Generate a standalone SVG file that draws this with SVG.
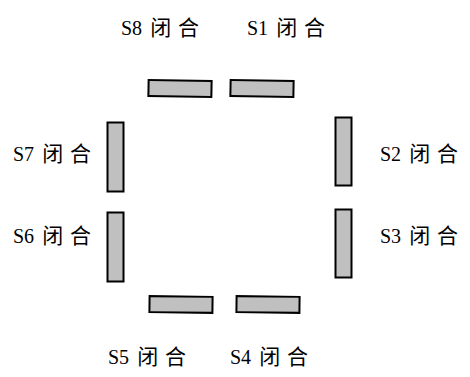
<svg xmlns="http://www.w3.org/2000/svg" width="470" height="377" viewBox="0 0 470 377">
<style>
.sw{fill:#c0c0c0;stroke:#000;stroke-width:2}
.lb{font-family:"Liberation Serif","Noto Sans CJK SC",serif;font-size:20px;fill:#000}
.cj{font-size:21px;letter-spacing:7px}
</style>
<rect width="470" height="377" fill="#fff"/>
<g id="S8"><rect class="sw" x="148.5" y="80.5" width="63" height="16" transform="rotate(1 180 88.5)"/><text class="lb" x="121" y="35">S8 <tspan class="cj" dx="3">闭合</tspan></text></g>
<g id="S1"><rect class="sw" x="230.5" y="80.5" width="63" height="16" transform="rotate(1 262 88.5)"/><text class="lb" x="247" y="35">S1 <tspan class="cj" dx="3">闭合</tspan></text></g>
<g id="S2"><rect class="sw" x="335.5" y="117.5" width="16" height="68"/><text class="lb" x="380" y="161">S2 <tspan class="cj" dx="3">闭合</tspan></text></g>
<g id="S3"><rect class="sw" x="335.5" y="209.5" width="16" height="68"/><text class="lb" x="380" y="243">S3 <tspan class="cj" dx="3">闭合</tspan></text></g>
<g id="S4"><rect class="sw" x="236.5" y="296.5" width="63" height="16" transform="rotate(0.7 268 304.5)"/><text class="lb" x="230" y="364">S4 <tspan class="cj" dx="3">闭合</tspan></text></g>
<g id="S5"><rect class="sw" x="149.5" y="296.5" width="63" height="16" transform="rotate(0.7 181 304.5)"/><text class="lb" x="108" y="364">S5 <tspan class="cj" dx="3">闭合</tspan></text></g>
<g id="S6"><rect class="sw" x="107.5" y="212.5" width="16" height="69"/><text class="lb" x="13" y="243">S6 <tspan class="cj" dx="3">闭合</tspan></text></g>
<g id="S7"><rect class="sw" x="107.5" y="122.5" width="16" height="69"/><text class="lb" x="13" y="161">S7 <tspan class="cj" dx="3">闭合</tspan></text></g>
<g id="connectors"></g>
</svg>
